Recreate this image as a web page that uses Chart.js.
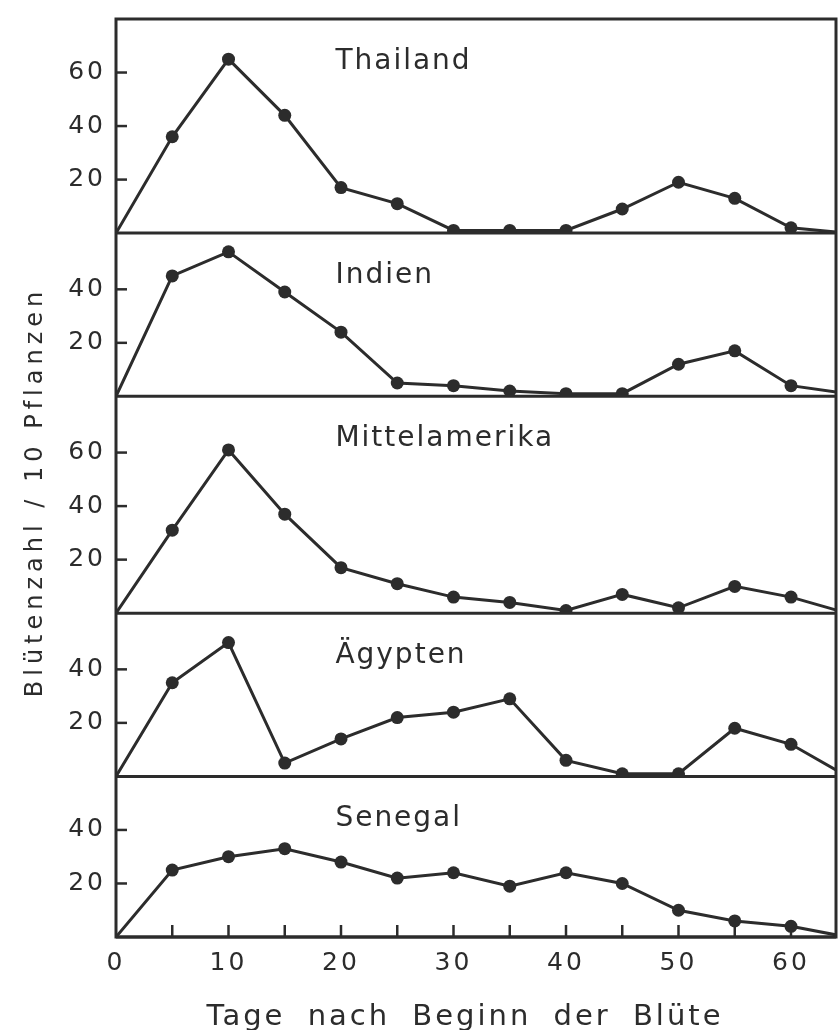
<!DOCTYPE html>
<html>
<head>
<meta charset="utf-8">
<script src="https://cdn.jsdelivr.net/npm/chart.js@4.4.1/dist/chart.umd.min.js"></script>
<style>
html, body { margin: 0; padding: 0; background: #fff; }
canvas { display: block; }
</style>
</head>
<body>
<canvas id="chart" width="838" height="1030"></canvas>
<script>

/* DATA */

const days = [0, 5, 10, 15, 20, 25, 30, 35, 40, 45, 50, 55, 60, 65];

const regions = ["Thailand", "Indien", "Mittelamerika", "Ägypten", "Senegal"];

const thailand      = [0, 36, 65, 44, 17, 11, 1, 1, 1, 9, 19, 13, 2, 0];
const indien        = [0, 45, 54, 39, 24, 5, 4, 2, 1, 1, 12, 17, 4, 1];
const mittelamerika = [0, 31, 61, 37, 17, 11, 6, 4, 1, 7, 2, 10, 6, 0];
const aegypten      = [0, 35, 50, 5, 14, 22, 24, 29, 6, 1, 1, 18, 12, 0];
const senegal       = [0, 25, 30, 33, 28, 22, 24, 19, 24, 20, 10, 6, 4, 0];

const series = [thailand, indien, mittelamerika, aegypten, senegal];

const yMax = [80, 61, 81, 61, 60];
const yTicks = [[20, 40, 60], [20, 40], [20, 40, 60], [20, 40], [20, 40]];

const xTicks = [0, 5, 10, 15, 20, 25, 30, 35, 40, 45, 50, 55, 60];
const xLabels = [0, 10, 20, 30, 40, 50, 60];

const xTitle = "Tage nach Beginn der Blüte";
const yTitle = "Blütenzahl / 10 Pflanzen";

/* STYLE */

const ink = "#2c2c2c";
const font = "'DejaVu Sans', sans-serif";
const axisIds = ["yT", "yI", "yM", "yA", "yS"];

/* FRAME, TICKS, LABELS */

const framePlugin = {
id: "frame",

beforeDraw(chart) {
chart.ctx.letterSpacing = "3px";
},

beforeDatasetsDraw(chart) {

const ctx = chart.ctx;
const a = chart.chartArea;
const x = chart.scales.x;

ctx.save();
ctx.strokeStyle = ink;
ctx.fillStyle = ink;
ctx.lineCap = "butt";

// outer frame
ctx.lineWidth = 3;
ctx.strokeRect(a.left, a.top, a.right - a.left, a.bottom - a.top);

axisIds.forEach((id, i) => {

const s = chart.scales[id];

// panel separator
ctx.lineWidth = 3;
ctx.beginPath();
ctx.moveTo(a.left, s.bottom);
ctx.lineTo(a.right, s.bottom);
ctx.stroke();

// inward tick marks
ctx.lineWidth = 2.5;
s.ticks.forEach(t => {
const py = s.getPixelForValue(t.value);
ctx.beginPath();
ctx.moveTo(a.left, py);
ctx.lineTo(a.left + 11, py);
ctx.stroke();
});

// panel name
ctx.font = "28px " + font;
ctx.letterSpacing = "2px";
ctx.textAlign = "left";
ctx.textBaseline = "alphabetic";
ctx.fillText(regions[i], x.getPixelForValue(19.5), s.top + 50);

});

// x tick marks
ctx.lineWidth = 2.5;
x.ticks.forEach(t => {
if (t.value <= 0) return;
const px = x.getPixelForValue(t.value);
ctx.beginPath();
ctx.moveTo(px, a.bottom);
ctx.lineTo(px, a.bottom - 12);
ctx.stroke();
});

// x title
ctx.font = "29px " + font;
ctx.letterSpacing = "3px";
ctx.wordSpacing = "10px";
ctx.textAlign = "center";
ctx.textBaseline = "alphabetic";
ctx.fillText(xTitle, 465, 1025);

// y title
ctx.wordSpacing = "0px";
ctx.font = "24px " + font;
ctx.letterSpacing = "5px";
ctx.translate(36, 492);
ctx.rotate(-Math.PI / 2);
ctx.textBaseline = "middle";
ctx.fillText(yTitle, 0, 0);

ctx.restore();
},

afterDraw(chart) {
chart.ctx.letterSpacing = "0px";
}
};

/* SCALES */

const scales = {
x: {
type: "linear",
min: 0,
max: 64,
afterBuildTicks: s => { s.ticks = xTicks.map(v => ({ value: v })); },
afterFit: s => { s.height = 93; },
grid: { display: false, drawTicks: false },
border: { display: false },
ticks: {
autoSkip: false,
maxRotation: 0,
padding: 11,
color: ink,
font: { family: font, size: 25 },
callback: v => xLabels.includes(v) ? String(v) : ""
}
}
};

// bottom panel first, so the top panel is stacked last (on top)
for (let i = axisIds.length - 1; i >= 0; i--) {
scales[axisIds[i]] = {
type: "linear",
position: "left",
stack: "panels",
stackWeight: yMax[i],
weight: axisIds.length - i,
min: 0,
max: yMax[i],
afterBuildTicks: s => { s.ticks = yTicks[i].map(v => ({ value: v })); },
afterFit: s => { s.width = 116; s.paddingTop = 0; s.paddingBottom = 0; },
grid: { display: false, drawTicks: false },
border: { display: false },
ticks: {
padding: 10,
color: ink,
font: { family: font, size: 25 }
}
};
}

/* DATASETS */

const datasets = series.map((vals, i) => ({
label: regions[i],
xAxisID: "x",
yAxisID: axisIds[i],
data: days.map((d, j) => ({ x: d, y: vals[j] })),
borderColor: ink,
backgroundColor: ink,
borderWidth: 3,
tension: 0,
pointRadius: days.map(d => (d > 0 && d <= 60 ? 6.5 : 0)),
pointBackgroundColor: ink,
pointBorderWidth: 0
}));

new Chart(document.getElementById("chart"), {
type: "line",
data: { datasets: datasets },
options: {
responsive: false,
animation: false,
layout: { padding: { top: 19, right: 2, left: 0, bottom: 0 } },
plugins: {
legend: { display: false },
tooltip: { enabled: false }
},
scales: scales
},
plugins: [framePlugin]
});

</script>
</body>
</html>
